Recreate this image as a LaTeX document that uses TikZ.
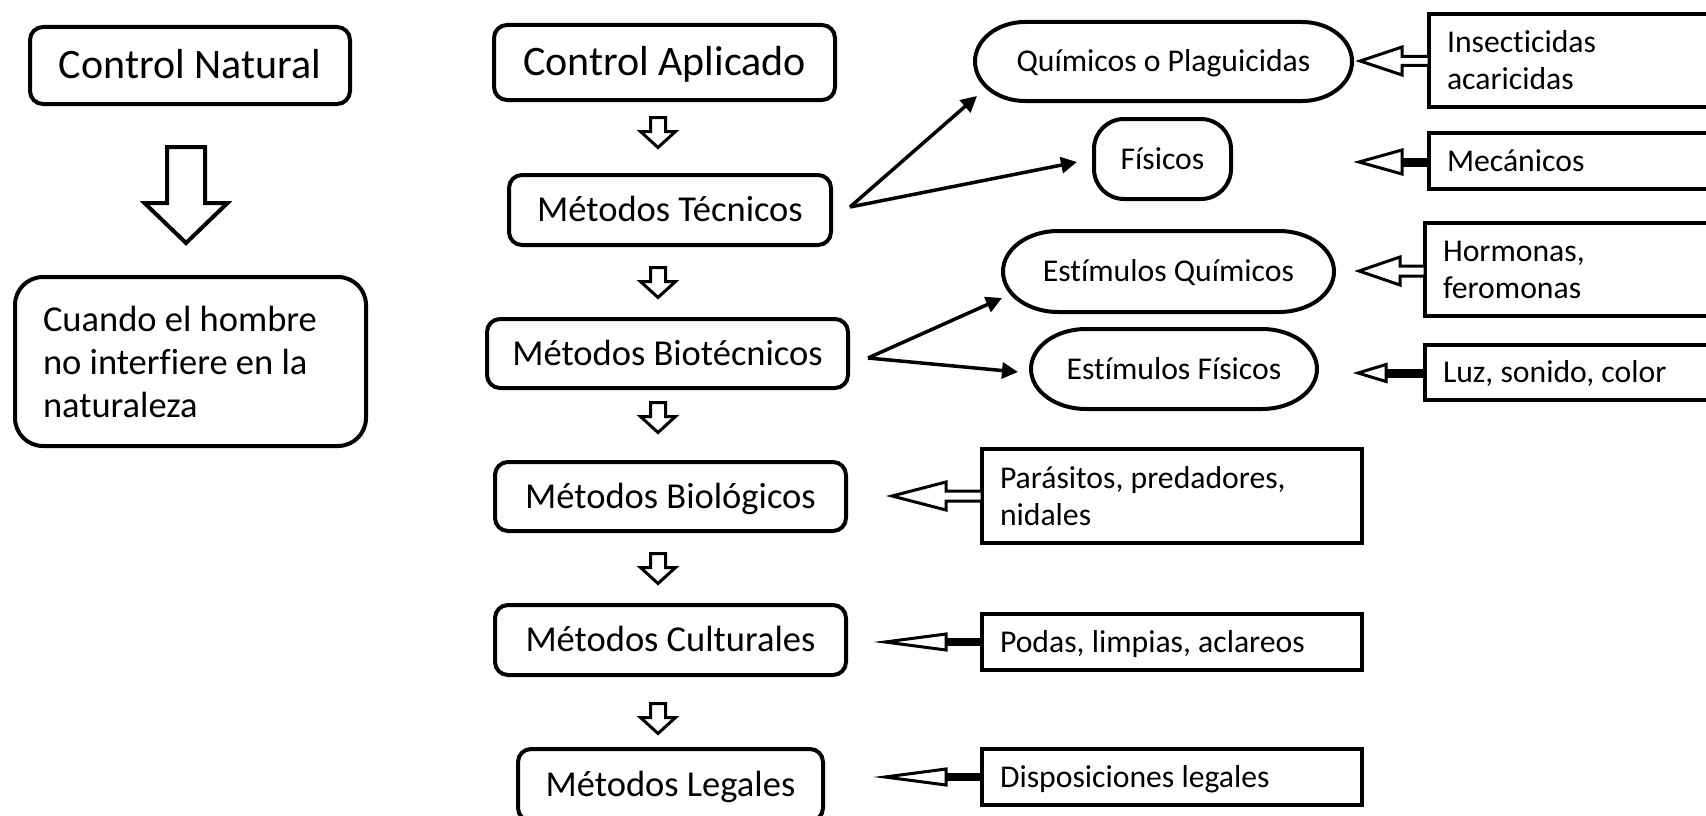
\documentclass[tikz,border=0pt]{standalone}
\usepackage{fontspec}
\setmainfont{Carlito}[Ligatures=NoCommon]
\usetikzlibrary{arrows.meta,calc}
\newcommand{\stadium}[2]{%
 \draw[ovalline] ([xshift=#2pt]#1.north west) -- ([xshift=-#2pt]#1.north east)
 .. controls ([xshift={-0.448*#2pt}]#1.north east) and ($(#1.east)!0.552!(#1.north east)$) .. (#1.east)
 .. controls ($(#1.east)!0.552!(#1.south east)$) and ([xshift={-0.448*#2pt}]#1.south east) .. ([xshift=-#2pt]#1.south east)
 -- ([xshift=#2pt]#1.south west)
 .. controls ([xshift={0.448*#2pt}]#1.south west) and ($(#1.west)!0.552!(#1.south west)$) .. (#1.west)
 .. controls ($(#1.west)!0.552!(#1.north west)$) and ([xshift={0.448*#2pt}]#1.north west) .. ([xshift=#2pt]#1.north west) -- cycle;}
% hollow left arrow: #1 box anchor, #2 tip, #3 head length, #4 head half, #5 shaft half
\newcommand{\hollowleft}[5]{%
 \draw[blockarrow] let \p1=(#1), \p2=(#2) in
 (\p2) -- (\x2+#3pt,\y2+#4pt) -- (\x2+#3pt,\y2+#5pt) -- (\x1,\y2+#5pt) -- (\x1,\y2-#5pt) -- (\x2+#3pt,\y2-#5pt) -- (\x2+#3pt,\y2-#4pt) -- cycle;}
% left arrow with solid shaft: #5 shaft thickness
\newcommand{\solidleft}[5]{%
 \draw[line width=#5pt] let \p1=(#1), \p2=(#2) in (\x2+#3pt,\y2) -- (\x1,\y2);
 \draw[blockarrow] let \p2=(#2) in (\p2) -- (\x2+#3pt,\y2+#4pt) -- (\x2+#3pt,\y2-#4pt) -- cycle;}
% down block arrow: #1 top, #2 length, #3 shaft half, #4 head half, #5 head length, #6 stroke
\newcommand{\blockdown}[6]{%
 \draw[blockarrow,line width=#6pt] let \p1=(#1) in (\x1-#3pt,\y1) -- (\x1+#3pt,\y1) -- (\x1+#3pt,\y1-#2pt+#5pt) -- (\x1+#4pt,\y1-#2pt+#5pt) -- (\x1,\y1-#2pt) -- (\x1-#4pt,\y1-#2pt+#5pt) -- (\x1-#3pt,\y1-#2pt+#5pt) -- cycle;}
\begin{document}
\frenchspacing
\begin{tikzpicture}[x=1pt,y=-1pt,
  normalspace/.style={execute at begin node={\spaceskip=0pt\relax\xspaceskip=0pt\relax\frenchspacing}},
  rbox/.style={draw, line width=4pt, rounded corners=13pt, inner sep=0pt, outer sep=0pt, align=center},
  fbig/.style={font=\fontsize{42}{49}\selectfont, text height=35.4pt, text depth=8.4pt},
  fmid/.style={font=\fontsize{36.5}{43}\selectfont, text height=30.8pt, text depth=7.3pt},
  fmidml/.style={font=\fontsize{36.5}{43}\selectfont},
  fsmall/.style={font=\fontsize{31.7}{37}\selectfont, text height=26.8pt, text depth=6.3pt},
  fsmallml/.style={font=\fontsize{31.7}{37}\selectfont},
  sbox/.style={draw, line width=4.5pt, anchor=west, inner ysep=0pt, inner xsep=18pt, outer sep=0pt, align=flush left, text width=255pt, normalspace},
  ovalnode/.style={inner sep=0pt, outer sep=0pt},
  ovalline/.style={line width=4pt},
  blockarrow/.style={draw, fill=white, line width=3pt, line join=miter},
  conn/.style={line width=3.5pt, -{Triangle[length=16pt,width=16pt]}}]
\useasboundingbox[fill=white] (0,0) rectangle (1706,816);

% left column
\node[rbox, fbig, minimum width=320pt, minimum height=77pt] (cn) at (190,65.5) {Control Natural};
\node[rbox, fmidml, rounded corners=28pt, minimum height=169pt, text width=295pt, inner xsep=28pt, align=flush left, normalspace] (cu) at (190.5,361.5) {Cuando el hombre\\no interfiere en la\\naturaleza};
\coordinate (d0) at (186,147);
\blockdown{d0}{96}{19}{41.5}{40}{4}

% middle column
\node[rbox, fbig, minimum width=341pt, minimum height=75pt] (ca) at (664.5,62.5) {Control Aplicado};
\node[rbox, fmid, minimum width=322pt, minimum height=70pt] (mt) at (670,210) {Métodos Técnicos};
\node[rbox, fmid, minimum width=361pt, minimum height=69pt] (mb) at (667.5,353.5) {Métodos Biotécnicos};
\node[rbox, fmid, minimum width=351pt, minimum height=69pt] (mbio) at (670.5,496.5) {Métodos Biológicos};
\node[rbox, fmid, minimum width=351pt, minimum height=70pt] (mc) at (670.5,640) {Métodos Culturales};
\node[rbox, fmid, minimum width=305pt, minimum height=72pt] (ml) at (670.5,785) {Métodos Legales};

\coordinate (d1) at (658,117.5);
\coordinate (d2) at (658,267.5);
\coordinate (d3) at (658,402.5);
\coordinate (d4) at (658,553.5);
\coordinate (d5) at (658,703.5);
\blockdown{d1}{30}{7.5}{17.5}{16}{3}
\blockdown{d2}{30}{7.5}{17.5}{16}{3}
\blockdown{d3}{30}{7.5}{17.5}{16}{3}
\blockdown{d4}{30}{7.5}{17.5}{16}{3}
\blockdown{d5}{30}{7.5}{17.5}{16}{3}

% ovals
\node[ovalnode, fsmall, minimum width=377pt, minimum height=79pt] (q) at (1163.5,61.5) {Químicos o Plaguicidas};
\stadium{q}{50}
\node[rbox, fsmall, rounded corners=30pt, minimum width=137pt, minimum height=80pt] (fis) at (1162.5,159) {Físicos};
\node[ovalnode, fsmall, minimum width=331pt, minimum height=81pt] (eq) at (1168.5,271.5) {Estímulos Químicos};
\stadium{eq}{55}
\node[ovalnode, fsmall, minimum width=286pt, minimum height=80pt] (ef) at (1174,369) {Estímulos Físicos};
\stadium{ef}{55}

% connectors
\coordinate (s1) at (850,207);
\coordinate (t1) at (977,96);
\coordinate (t2) at (1077,162);
\coordinate (s2) at (868,358);
\coordinate (t3) at (1002,298);
\coordinate (t4) at (1018,372);
\draw[conn] (s1) -- (t1);
\draw[conn] (s1) -- (t2);
\draw[conn] (s2) -- (t3);
\draw[conn] (s2) -- (t4);

% right boxes
\node[sbox, fsmallml, minimum height=93pt] (ins) at (1429,60.5) {Insecticidas\\acaricidas};
\node[sbox, fsmall, minimum height=56pt] (mec) at (1429,161) {Mecánicos};
\node[sbox, fsmallml, minimum height=93pt] (hor) at (1425,269.5) {Hormonas,\\feromonas};
\node[sbox, fsmall, minimum height=55pt] (luz) at (1425,372.5) {Luz, sonido, color};
\node[sbox, fsmallml, text width=344pt, minimum height=94pt] (par) at (982,496) {Parásitos, predadores,\\nidales};
\node[sbox, fsmall, text width=344pt, minimum height=56pt] (pod) at (982,642) {Podas, limpias, aclareos};
\node[sbox, fsmall, text width=344pt, minimum height=56pt] (dis) at (982,777) {Disposiciones legales};

% side block arrows
\coordinate (h1) at (1360,61);
\coordinate (h2) at (1359,162);
\coordinate (h3) at (1359,271);
\coordinate (h4) at (1358,373);
\coordinate (h5) at (892,496);
\coordinate (h6) at (885,642);
\coordinate (h7) at (885,777);
\hollowleft{ins.west}{h1}{42}{14}{4.5}
\solidleft{mec.west}{h2}{43}{12}{9}
\hollowleft{hor.west}{h3}{41}{14}{5}
\solidleft{luz.west}{h4}{28}{8.5}{9}
\hollowleft{par.west}{h5}{54}{14}{5}
\solidleft{pod.west}{h6}{61}{8}{8}
\solidleft{dis.west}{h7}{61}{8}{8}
\end{tikzpicture}
\end{document}
